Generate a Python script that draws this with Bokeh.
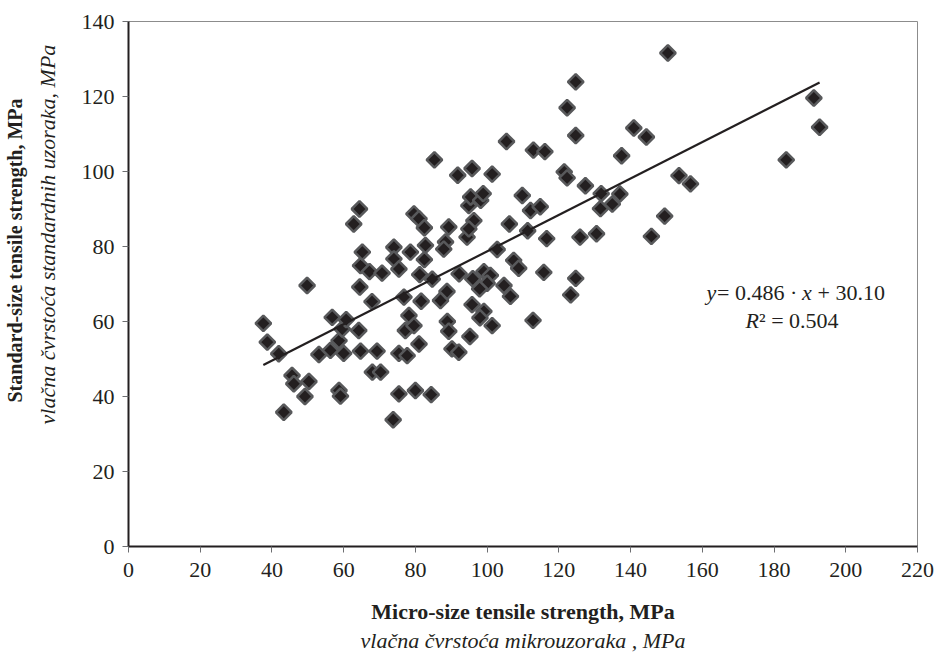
from bokeh.plotting import figure
from bokeh.models import Title, Label, Range1d, FixedTicker
from bokeh.embed import file_html
from bokeh.resources import INLINE

# ---- data ----
micro = [37.6, 38.7, 41.9, 43.3, 45.6, 46.1, 50.3, 49.2, 49.8, 53.1,
         56.3, 56.8, 58.7, 59.6, 60.7, 60.0, 58.7, 59.1, 62.8, 64.4,
         64.2, 64.5, 64.7, 65.2, 64.7, 67.2, 67.9, 68.0, 69.3, 70.3,
         70.7, 74.0, 74.0, 75.4, 73.8, 75.4, 75.4, 76.8, 77.2, 77.7,
         78.2, 78.6, 79.6, 79.6, 81.0, 80.0, 81.2, 82.5, 81.0, 81.6,
         84.7, 82.8, 82.5, 84.4, 85.3, 88.4, 87.9, 89.3, 88.8, 87.0,
         88.9, 89.3, 90.2, 92.1, 91.8, 92.2, 94.4, 94.9, 95.4, 95.8,
         96.3, 94.9, 96.0, 95.8, 95.2, 98.2, 98.9, 99.1, 100.9, 100.0,
         97.9, 99.1, 98.0, 101.4, 101.4, 102.8, 104.7, 106.5, 105.4, 106.2,
         107.4, 108.8, 109.8, 111.3, 112.1, 114.8, 112.9, 112.8, 116.1, 115.8,
         116.6, 121.5, 122.3, 122.3, 124.7, 124.7, 123.3, 124.7, 125.9, 127.4,
         130.5, 131.6, 131.8, 134.9, 137.0, 137.5, 140.9, 144.4, 145.8, 149.5,
         150.4, 153.5, 156.7, 183.4, 191.1, 192.7]
standard = [59.5, 54.5, 51.4, 35.8, 45.6, 43.4, 44.0, 40.0, 69.6, 51.2,
            52.3, 61.1, 54.9, 58.0, 60.5, 51.5, 41.6, 40.1, 86.0, 90.0,
            57.6, 69.2, 74.9, 78.5, 52.1, 73.3, 65.3, 46.5, 52.1, 46.5,
            72.9, 79.8, 76.7, 74.0, 33.8, 51.5, 40.7, 66.5, 57.6, 50.9,
            61.6, 78.5, 58.9, 88.7, 87.4, 41.6, 72.5, 76.5, 54.0, 65.4,
            71.3, 80.3, 85.0, 40.5, 103.1, 81.2, 79.3, 85.2, 68.0, 65.6,
            60.0, 57.4, 52.7, 51.8, 99.0, 72.7, 82.5, 90.9, 93.2, 100.8,
            86.9, 84.7, 71.4, 64.5, 56.0, 92.3, 94.1, 73.3, 72.3, 70.2,
            68.7, 62.7, 61.0, 58.9, 99.3, 79.2, 69.6, 66.7, 108.0, 86.0,
            76.3, 74.2, 93.6, 84.2, 89.6, 90.6, 105.7, 60.3, 105.3, 73.1,
            82.1, 99.9, 98.3, 117.0, 123.9, 109.6, 67.1, 71.5, 82.5, 96.2,
            83.4, 90.1, 94.1, 91.3, 94.0, 104.2, 111.6, 109.2, 82.7, 88.1,
            131.6, 98.9, 96.7, 103.1, 119.6, 111.8]
SLOPE = 0.486
INTERCEPT = 30.10
x_ticks = [0, 20, 40, 60, 80, 100, 120, 140, 160, 180, 200, 220]
y_ticks = [0, 20, 40, 60, 80, 100, 120, 140]

FONT = "Liberation Serif"
INK = "#231f20"
FS = "22px"
NBSP = "\u00a0"

p = figure(width=938, height=655, output_backend="svg", toolbar_location=None,
           x_range=Range1d(0, 220), y_range=Range1d(0, 140),
           min_border_left=128, min_border_right=21, min_border_top=21,
           min_border_bottom=109)
p.background_fill_color = "white"
p.border_fill_color = "white"
p.outline_line_color = "#8c8c8c"
p.outline_line_width = 1
p.xgrid.visible = False
p.ygrid.visible = False

p.xaxis.ticker = FixedTicker(ticks=x_ticks)
p.yaxis.ticker = FixedTicker(ticks=y_ticks)
for ax in (p.xaxis, p.yaxis):
    ax.axis_line_color = INK
    ax.axis_line_width = 2
    ax.major_tick_in = 0
    ax.major_tick_out = 6
    ax.major_tick_line_color = "#6d6e71"
    ax.major_tick_line_width = 1
    ax.minor_tick_line_color = None
    ax.major_label_text_font = FONT
    ax.major_label_text_font_size = FS
    ax.major_label_text_color = INK
p.xaxis.major_label_standoff = 10
p.yaxis.major_label_standoff = 8

p.xaxis.axis_label = "Micro-size tensile strength, MPa"
p.xaxis.axis_label_text_font = FONT
p.xaxis.axis_label_text_font_style = "bold"
p.xaxis.axis_label_text_font_size = "22px"
p.xaxis.axis_label_text_color = INK
p.xaxis.axis_label_standoff = 19

p.add_layout(Title(text="vlačna čvrstoća mikrouzoraka , MPa", align="center",
                   text_font=FONT, text_font_style="italic",
                   text_font_size=FS, text_color=INK, standoff=-2), "below")

p.yaxis.axis_label = None
p.add_layout(Title(text="vlačna čvrstoća standardnih uzoraka, MPa", align="left",
                   text_font=FONT, text_font_style="italic",
                   text_font_size=FS, text_color=INK, standoff=37, offset=122), "left")
p.add_layout(Title(text="Standard-size tensile strength,  MPa", align="left",
                   text_font=FONT, text_font_style="bold",
                   text_font_size="20px", text_color=INK, standoff=-22, offset=144), "left")

p.scatter(micro, standard, marker="square", size=11, angle=45, angle_units="deg",
          fill_color=INK, line_color="#58595b", line_width=2.5)

x0, x1 = min(micro), max(micro)
p.line([x0, x1], [SLOPE * x0 + INTERCEPT, SLOPE * x1 + INTERCEPT],
       line_color=INK, line_width=2.2)


def lab(x, y, text, style="normal", x_off=0):
    p.add_layout(Label(x=x, y=y, x_offset=x_off, text=text, text_font=FONT,
                       text_font_style=style, text_font_size=FS, text_color=INK,
                       text_align="left", text_baseline="middle"))


# regression equation
ax_, ay1, ay2 = 187.4, 67.7, 60.3
for t, st, off in [("y", "italic", -94.0), ("=" + NBSP + "0.486" + NBSP + "·", "normal", -83.5),
                   ("x", "italic", 1.5), (NBSP + "+" + NBSP + "30.10", "normal", 11.5)]:
    lab(ax_, ay1, t, style=st, x_off=off)
for t, st, off in [("R", "italic", -55.0), ("²" + NBSP + "=" + NBSP + "0.504", "normal", -41.5)]:
    lab(ax_, ay2, t, style=st, x_off=off)

open("out.html", "w").write(file_html(p, INLINE))
